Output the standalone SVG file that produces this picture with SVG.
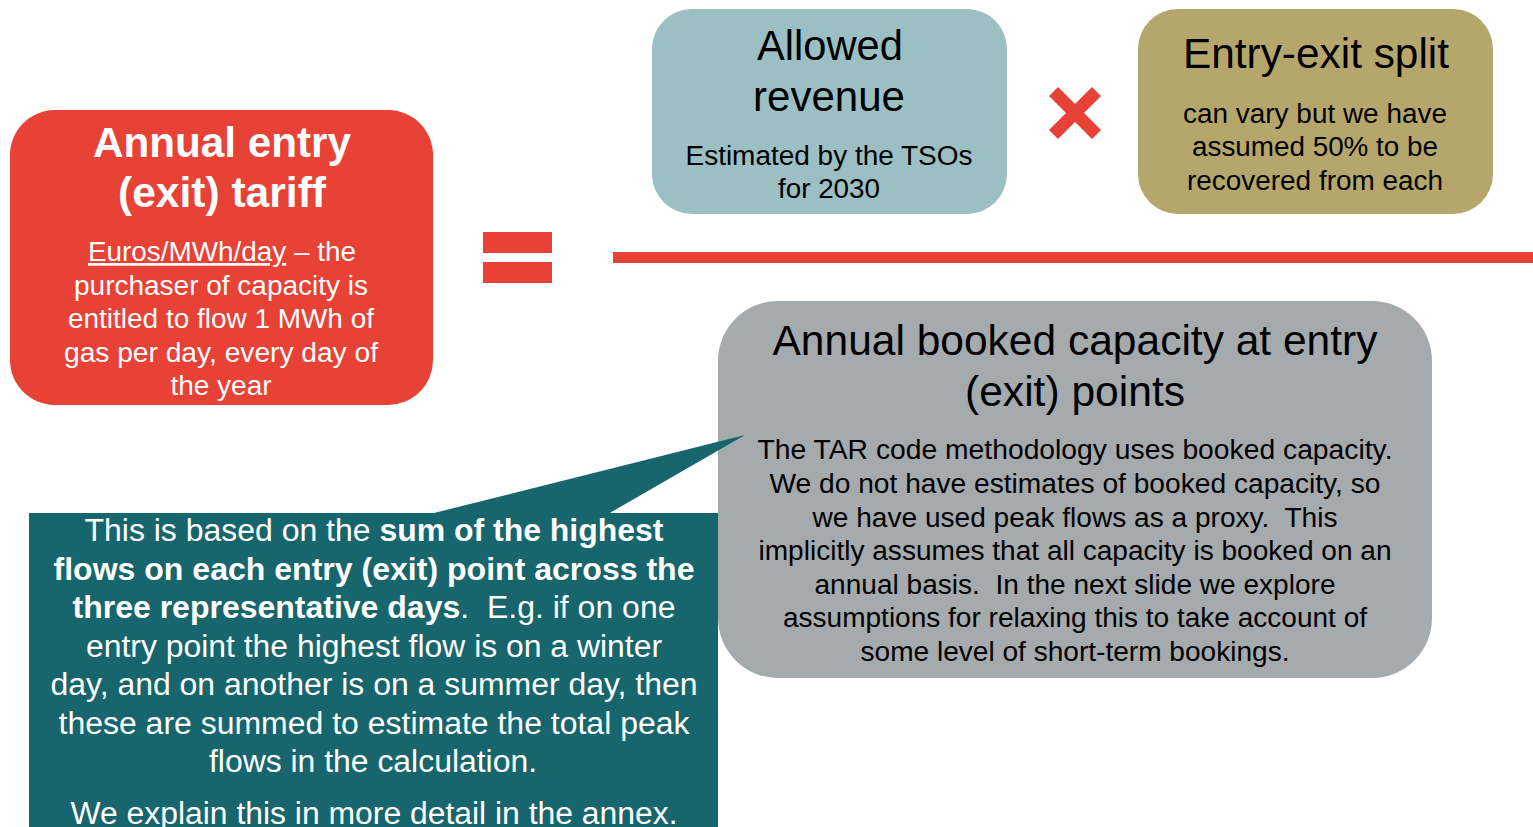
<svg xmlns="http://www.w3.org/2000/svg" width="1533" height="827" viewBox="0 0 1533 827">
  <style>
    .ttl-w { font-family: "Liberation Sans", Arial, sans-serif; font-weight: bold; font-size: 42px; fill: #ffffff; text-anchor: middle; }
    .body-w { font-family: "Liberation Sans", Arial, sans-serif; font-size: 27px; fill: #ffffff; text-anchor: middle; }
    .ttl-k { font-family: "Liberation Sans", Arial, sans-serif; font-size: 42px; fill: #000000; text-anchor: middle; }
    .body-k { font-family: "Liberation Sans", Arial, sans-serif; font-size: 27px; fill: #000000; text-anchor: middle; }
    .note { font-family: "Liberation Sans", Arial, sans-serif; font-size: 31px; fill: #ffffff; text-anchor: middle; }
    .pre { white-space: pre; }
    .red { fill: #E84136; }
  </style>

  <rect x="0" y="0" width="1533" height="827" fill="#ffffff"/>

  <!-- left-hand side: the tariff -->
  <g id="tariff">
    <rect x="10" y="110" width="423" height="295" rx="45" class="red"/>
    <text class="ttl-w" x="222" y="157" textLength="258" lengthAdjust="spacingAndGlyphs">Annual entry</text>
    <text class="ttl-w" x="222" y="207" textLength="208" lengthAdjust="spacingAndGlyphs">(exit) tariff</text>
    <text class="body-w" x="222" y="261" textLength="268" lengthAdjust="spacingAndGlyphs"><tspan text-decoration="underline">Euros/MWh/day</tspan> – the</text>
    <text class="body-w" x="221" y="295" textLength="294" lengthAdjust="spacingAndGlyphs">purchaser of capacity is</text>
    <text class="body-w" x="221" y="328" textLength="306" lengthAdjust="spacingAndGlyphs">entitled to flow 1 MWh of</text>
    <text class="body-w" x="221" y="362" textLength="314" lengthAdjust="spacingAndGlyphs">gas per day, every day of</text>
    <text class="body-w" x="221" y="395" textLength="101" lengthAdjust="spacingAndGlyphs">the year</text>
  </g>

  <!-- equals sign -->
  <g id="equals">
    <rect x="483" y="232" width="69" height="21" class="red"/>
    <rect x="483" y="262" width="69" height="21" class="red"/>
  </g>

  <!-- fraction bar -->
  <g id="fraction-bar">
    <rect x="613" y="252" width="920" height="11" class="red"/>
  </g>

  <!-- numerator: allowed revenue -->
  <g id="allowed-revenue">
    <rect x="652" y="9" width="355" height="205" rx="40" fill="#9BBFC3"/>
    <text class="ttl-k" x="830" y="60" textLength="146" lengthAdjust="spacingAndGlyphs">Allowed</text>
    <text class="ttl-k" x="829" y="111" textLength="152" lengthAdjust="spacingAndGlyphs">revenue</text>
    <text class="body-k" x="829" y="165" textLength="287" lengthAdjust="spacingAndGlyphs">Estimated by the TSOs</text>
    <text class="body-k" x="829" y="198" textLength="102" lengthAdjust="spacingAndGlyphs">for 2030</text>
  </g>

  <!-- multiplication sign -->
  <g id="times">
    <path d="M1058 87 L1075 104 L1092 87 L1101 96 L1084 113 L1101 130 L1092 139 L1075 122 L1058 139 L1049 130 L1066 113 L1049 96 Z" class="red"/>
  </g>

  <!-- numerator: entry-exit split -->
  <g id="entry-exit-split">
    <rect x="1138" y="9" width="355" height="205" rx="40" fill="#B5A76C"/>
    <text class="ttl-k" x="1316" y="68" textLength="266" lengthAdjust="spacingAndGlyphs">Entry-exit split</text>
    <text class="body-k" x="1315" y="123" textLength="264" lengthAdjust="spacingAndGlyphs">can vary but we have</text>
    <text class="body-k" x="1315" y="156" textLength="246" lengthAdjust="spacingAndGlyphs">assumed 50% to be</text>
    <text class="body-k" x="1315" y="190" textLength="256" lengthAdjust="spacingAndGlyphs">recovered from each</text>
  </g>

  <!-- denominator: booked capacity -->
  <g id="booked-capacity">
    <rect x="718" y="301" width="714" height="377" rx="60" fill="#A5AAAD"/>
  </g>

  <!-- explanatory callout pointing at the denominator -->
  <g id="callout">
    <rect x="29" y="513" width="689" height="314" fill="#17656D"/>
    <polygon points="430,514 745,435 608,514" fill="#17656D"/>
    <text class="note" x="374" y="541" textLength="579" lengthAdjust="spacingAndGlyphs">This is based on the <tspan font-weight="bold">sum of the highest</tspan></text>
    <text class="note" x="374" y="580" font-weight="bold" textLength="641" lengthAdjust="spacingAndGlyphs">flows on each entry (exit) point across the</text>
    <text class="note pre" x="374" y="618" textLength="603" lengthAdjust="spacingAndGlyphs"><tspan font-weight="bold">three representative days</tspan>.  E.g. if on one</text>
    <text class="note" x="374" y="657" textLength="576" lengthAdjust="spacingAndGlyphs">entry point the highest flow is on a winter</text>
    <text class="note" x="374" y="695" textLength="647" lengthAdjust="spacingAndGlyphs">day, and on another is on a summer day, then</text>
    <text class="note" x="374" y="734" textLength="631" lengthAdjust="spacingAndGlyphs">these are summed to estimate the total peak</text>
    <text class="note" x="373" y="772" textLength="328" lengthAdjust="spacingAndGlyphs">flows in the calculation.</text>
    <text class="note" x="374" y="824" textLength="607" lengthAdjust="spacingAndGlyphs">We explain this in more detail in the annex.</text>
  </g>

  <!-- denominator text, above the callout tail -->
  <g id="booked-capacity-text">
    <text class="ttl-k" x="1075" y="355" font-size="44" textLength="605" lengthAdjust="spacingAndGlyphs">Annual booked capacity at entry</text>
    <text class="ttl-k" x="1075" y="406" font-size="44" textLength="220" lengthAdjust="spacingAndGlyphs">(exit) points</text>
    <text class="body-k" x="1075" y="459" textLength="635" lengthAdjust="spacingAndGlyphs">The TAR code methodology uses booked capacity.</text>
    <text class="body-k" x="1075" y="493" textLength="611" lengthAdjust="spacingAndGlyphs">We do not have estimates of booked capacity, so</text>
    <text class="body-k pre" x="1075" y="527" textLength="525" lengthAdjust="spacingAndGlyphs">we have used peak flows as a proxy.  This</text>
    <text class="body-k" x="1075" y="560" textLength="633" lengthAdjust="spacingAndGlyphs">implicitly assumes that all capacity is booked on an</text>
    <text class="body-k pre" x="1075" y="594" textLength="521" lengthAdjust="spacingAndGlyphs">annual basis.  In the next slide we explore</text>
    <text class="body-k" x="1075" y="627" textLength="584" lengthAdjust="spacingAndGlyphs">assumptions for relaxing this to take account of</text>
    <text class="body-k" x="1075" y="661" textLength="429" lengthAdjust="spacingAndGlyphs">some level of short-term bookings.</text>
  </g>
</svg>
